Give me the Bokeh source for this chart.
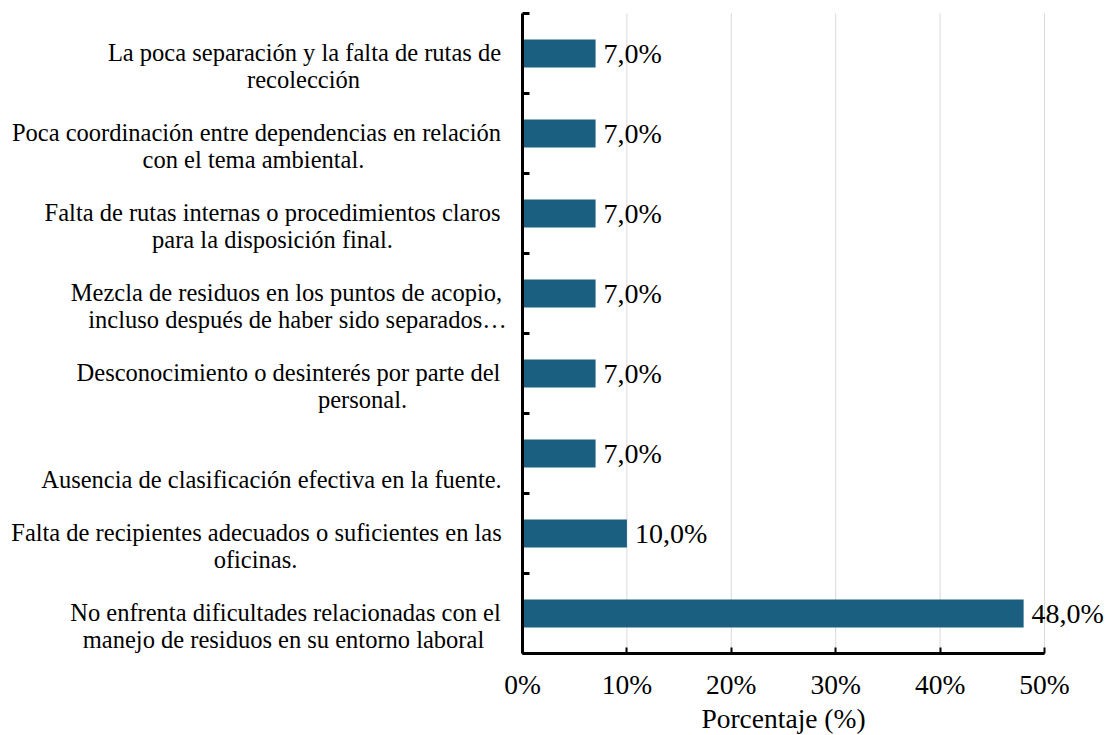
from bokeh.plotting import figure
from bokeh.models import (Range1d, FixedTicker, LabelSet, ColumnDataSource,
                          CustomLabelingPolicy)
from bokeh.embed import file_html
from bokeh.resources import INLINE

# ---------------- data ----------------
categories = [
    "La poca separación y la falta de rutas de\nrecolección",
    "Poca coordinación entre dependencias en relación\ncon el tema ambiental.",
    "Falta de rutas internas o procedimientos claros\npara la disposición final.",
    "Mezcla de residuos en los puntos de acopio,\nincluso después de haber sido separados…",
    "Desconocimiento o desinterés por parte del\npersonal.",
    "\nAusencia de clasificación efectiva en la fuente.",
    "Falta de recipientes adecuados o suficientes en las\noficinas.",
    "No enfrenta dificultades relacionadas con el\nmanejo de residuos en su entorno laboral",
]
values = [7.0, 7.0, 7.0, 7.0, 7.0, 7.0, 10.0, 48.0]
x_ticks = [0, 10, 20, 30, 40, 50]
x_tick_labels = ["0%", "10%", "20%", "30%", "40%", "50%"]
x_title = "Porcentaje (%)"

# ---------------- layout (not data) ----------------
FONT = "Liberation Serif"
BAR_COLOR = "#1a5e80"
W, H = 1106, 735
AXIS_X_PX = 522          # y axis position inside the canvas
AXIS_Y_PX = 653          # x axis position inside the canvas (from top)
TOP_PX = 13              # top of the category area
PX_PER_X = 10.44
n = len(categories)
PX_PER_Y = (AXIS_Y_PX - TOP_PX) / n
LINE_STEP_PX = 26.5
LABEL_SHIFT_PX = 1.0     # small upward nudge of category labels
# horizontal centre of each label line, in px to the left of the y axis
label_line_px = [[218, 219], [266, 269], [250, 250], [236, 225],
                 [234, 160], [251, 251], [266, 267], [237, 239]]

x0 = -AXIS_X_PX / PX_PER_X
x1 = (W - AXIS_X_PX) / PX_PER_X
y0 = -(H - AXIS_Y_PX) / PX_PER_Y
y1 = n + TOP_PX / PX_PER_Y

ys = [n - i - 0.5 for i in range(n)]

p = figure(width=W, height=H,
           x_range=Range1d(x0, x1), y_range=Range1d(y0, y1),
           output_backend="svg", toolbar_location=None,
           min_border=0)
p.outline_line_color = None
p.background_fill_color = "white"
p.border_fill_color = "white"
p.xgrid.visible = False
p.ygrid.visible = False

# vertical gridlines (only across the category area)
p.segment(x0=x_ticks[1:], x1=x_ticks[1:], y0=[0] * (len(x_ticks) - 1),
          y1=[n] * (len(x_ticks) - 1), line_color="#d9d9d9", line_width=1)

p.hbar(y=ys, right=values, left=0, height=0.35, fill_color=BAR_COLOR,
       line_color=None)

# x axis (fixed at y=0)
xa = p.xaxis[0]
xa.fixed_location = 0
xa.bounds = (x_ticks[0], x_ticks[-1])
xa.ticker = FixedTicker(ticks=x_ticks)
xa.major_label_overrides = dict(zip(x_ticks, x_tick_labels))
xa.axis_label = x_title
xa.axis_label_text_font = FONT
xa.axis_label_text_font_size = "27.5px"
xa.axis_label_text_font_style = "normal"
xa.axis_label_text_color = "black"
xa.axis_label_standoff = 0
xa.major_label_text_font = FONT
xa.major_label_text_font_size = "27.5px"
xa.major_label_text_color = "black"
xa.major_label_standoff = 15
xa.axis_line_width = 3
xa.axis_line_color = "black"
xa.major_tick_in = 6
xa.major_tick_out = 0
xa.major_tick_line_width = 2
xa.major_tick_line_color = "black"
xa.minor_tick_line_color = None

# y axis (fixed at x=0), ticks at category boundaries, no tick labels
ya = p.yaxis[0]
ya.fixed_location = 0
ya.bounds = (0, n)
ya.ticker = FixedTicker(ticks=list(range(n + 1)))
ya.major_label_text_font_size = "0px"
ya.major_label_policy = CustomLabelingPolicy(code="""
try { const m = indices.size; for (let i = 0; i < m; i++) indices.unset(i) } catch (e) {}
return indices
""")
ya.axis_line_width = 3
ya.axis_line_color = "black"
ya.major_tick_in = 7
ya.major_tick_out = 0
ya.major_tick_line_width = 3
ya.major_tick_line_color = "black"
ya.minor_tick_line_color = None

# value labels
vlabels = [f"{v:.1f}".replace(".", ",") + "%" for v in values]
vsrc = ColumnDataSource(dict(x=values, y=ys, t=vlabels))
p.add_layout(LabelSet(x="x", y="y", text="t", source=vsrc, x_offset=8,
                      text_baseline="middle", text_align="left",
                      text_font=FONT, text_font_size="28px",
                      text_color="black"))

# category labels (each line centred)
lx, ly, lt = [], [], []
for i, cat in enumerate(categories):
    for j, line in enumerate(cat.split("\n")):
        if not line:
            continue
        lx.append(-label_line_px[i][j] / PX_PER_X)
        ly.append(ys[i] + (LABEL_SHIFT_PX - j * LINE_STEP_PX) / PX_PER_Y)
        lt.append(line)
csrc = ColumnDataSource(dict(x=lx, y=ly, t=lt))
p.add_layout(LabelSet(x="x", y="y", text="t", source=csrc,
                      text_baseline="middle", text_align="center",
                      text_font=FONT, text_font_size="24.5px",
                      text_color="black"))

open("out.html", "w").write(file_html(p, INLINE))
